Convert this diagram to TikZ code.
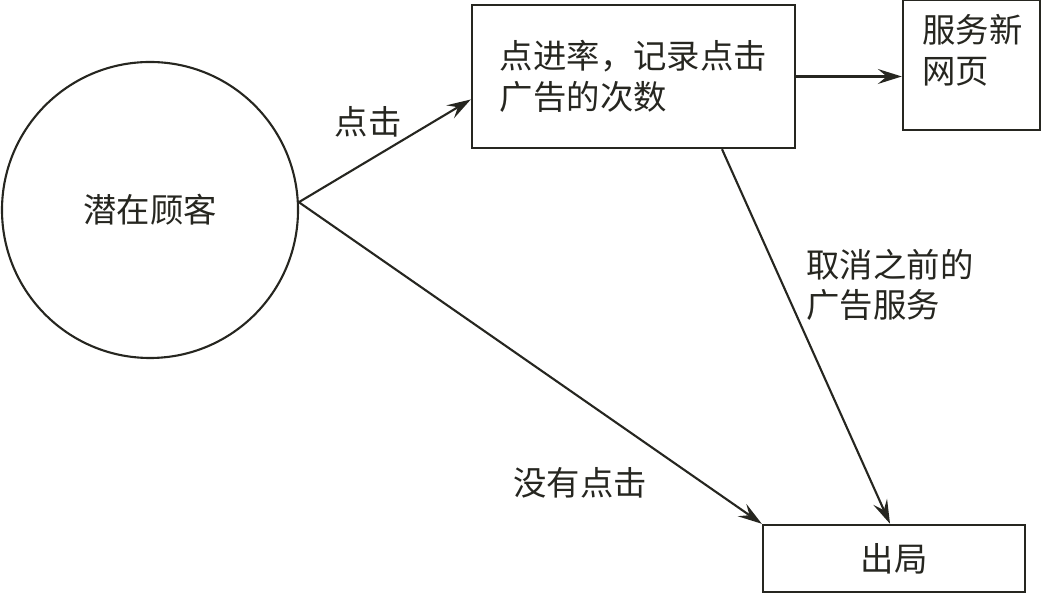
\documentclass[tikz,border=0pt]{standalone}
\usepackage{fontspec}
\setmainfont{Noto Sans CJK SC}
\usetikzlibrary{arrows.meta,calc}
\definecolor{strich}{HTML}{262620}
\tikzset{
  pfeil/.style={-{Stealth[length=2.4mm,width=1.5mm,inset=0.9mm]},strich,line width=0.6pt},
  kasten/.style={draw=strich,line width=0.7pt,inner sep=0pt},
  kreis/.style={circle,draw=strich,line width=0.6pt,inner sep=0pt,minimum size=2.96cm},
  schrift/.style={font=\fontsize{9.5}{11.5}\selectfont,text=strich},
}

\begin{document}
\begin{tikzpicture}
  \useasboundingbox (0,0) rectangle (10.49,-5.96);
  \node[kreis,schrift] (kunde) at (1.50,-2.10) {潜在顾客};
  \node[kasten,schrift,minimum width=3.23cm,minimum height=1.43cm,align=left] (zaehlung) at (6.335,-0.765) {点进率，记录点击\\广告的次数};
  \node[kasten,minimum width=1.37cm,minimum height=1.30cm] (neueseite) at (9.715,-0.65) {};
  \node[schrift,anchor=north west,align=left,inner sep=0pt] (neueseitetext) at ([xshift=0.20cm,yshift=-0.15cm]neueseite.north west) {服务新\\网页};
  \node[kasten,schrift,minimum width=2.62cm,minimum height=0.67cm] (aus) at (8.94,-5.585) {出局};
  \coordinate (K) at (kunde.3);
  \draw[pfeil] (K)--([yshift=-0.23cm]zaehlung.west);
  \draw[pfeil] (K)--(aus.north west);
  \draw[pfeil] ([xshift=0.885cm]zaehlung.south)--([xshift=-0.04cm]aus.north);
  \draw[pfeil] (zaehlung.east)--(zaehlung.east -| neueseite.west);
  \node[schrift] (lklick) at (3.68,-1.22) {点击};
  \node[schrift] (lkeinklick) at (5.80,-4.83) {没有点击};
  \node[schrift,align=left] (labbruch) at (8.90,-2.85) {取消之前的\\广告服务};
\end{tikzpicture}
\end{document}
